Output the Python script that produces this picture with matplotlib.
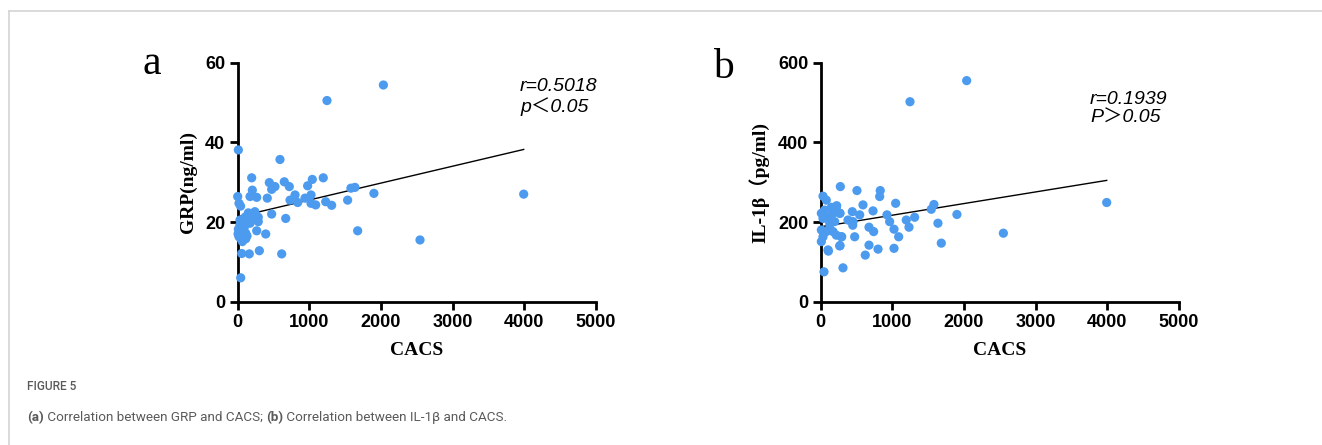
import numpy as np
import matplotlib
matplotlib.use("Agg")
import matplotlib.pyplot as plt
from matplotlib.lines import Line2D

# panel a: CACS vs GRP (ng/ml)
cacs_a = [2033, 1246, 9, 590, 3991, 2544, 1674, 1901, 1636, 1580, 1534, 1194,
          1041, 976, 1023, 1023, 1088, 1228, 1311, 650, 720, 800, 730, 837,
          939, 441, 520, 474, 413, 474, 670, 391, 614, 302, 265, 195, 204,
          172, 265, 162, 56, 42, 0, 18, 40, 148, 232, 287, 195, 102, 32, 32,
          9, 92, 112, 18, 46, 112, 65, 287, 172, 79, 240, 225, 5, 60, 130]
grp = [54.4, 50.5, 38.1, 35.7, 27.0, 15.5, 17.8, 27.2, 28.7, 28.5, 25.5, 31.1,
       30.7, 29.1, 26.8, 24.7, 24.3, 25.1, 24.2, 30.1, 28.9, 26.8, 25.5, 24.9,
       26.0, 29.9, 28.9, 28.2, 26.0, 22.0, 20.9, 17.0, 12.0, 12.8, 17.8, 31.1, 28.0,
       26.4, 26.2, 12.0, 12.1, 6.0, 26.4, 24.7, 24.0, 22.3, 22.3, 21.2, 20.9, 21.2,
       20.5, 19.3, 18.2, 18.7, 17.2, 16.3, 15.8, 15.8, 15.1, 20.1, 19.7, 20.1,
       22.6, 21.5, 17.0, 17.5, 16.5]
fit_a = (0.00424, 21.3)   # slope, intercept

# panel b: CACS vs IL-1beta (pg/ml)
cacs_b = [2037, 1246, 3991, 2549, 1683, 1901, 1636, 1580, 1543, 1311, 1194, 1232,
          1088, 1023, 1023, 1046, 962, 925, 831, 823, 800, 730, 739, 674, 674,
          622, 590, 544, 474, 441, 451, 381, 274, 311, 293, 270, 270, 223, 107,
          46, 32, 78, 9, 55, 148, 218, 265, 172, 102, 32, 195, 126, 9, 78, 32,
          9, 172, 218, 287, 265, 102, 126, 506, 447]
il1b = [555, 502, 249, 172, 147, 219, 197, 244, 232, 212, 205, 187,
        163, 182, 134, 247, 201, 218, 279, 264, 132, 228, 176, 187, 142,
        117, 243, 218, 163, 226, 201, 205, 289, 85, 163, 141, 222, 241, 127,
        75, 265, 255, 222, 230, 237, 238, 222, 222, 213, 209, 201, 197, 180, 176, 163,
        151, 176, 167, 163, 140, 130, 184, 279, 192]
fit_b = (0.0292, 188.0)

dot_color = "#4C9BEF"
tick_font = "Liberation Sans"
label_font = "Liberation Serif"
cap_font = ["Roboto"]
cap_color = "#5a5a5a"

fig = plt.figure(figsize=(13.22, 4.45), dpi=100)

# light frame lines (top and left)
fig.add_artist(Line2D([9 / 1322, 1], [1 - 11 / 445, 1 - 11 / 445], color="#d4d4d4", lw=1.2))
fig.add_artist(Line2D([9 / 1322, 9 / 1322], [0, 1 - 11 / 445], color="#d4d4d4", lw=1.2))


def panel(rect, x, y, fit, ymax, yticks, ylabel, letter, letter_xy, stats, stats_xy):
    ax = fig.add_axes(rect)
    ax.scatter(x, y, s=44, color=dot_color, edgecolors="none", zorder=3, clip_on=False)
    xs = np.array([0, max(x)])
    ax.plot(xs, fit[0] * xs + fit[1], color="black", lw=1.0, zorder=2)
    ax.set_xlim(0, 5000)
    ax.set_ylim(0, ymax)
    ax.set_xticks([0, 1000, 2000, 3000, 4000, 5000])
    ax.set_yticks(yticks)
    for s in ["top", "right"]:
        ax.spines[s].set_visible(False)
    for s in ["left", "bottom"]:
        ax.spines[s].set_linewidth(2.0)
    ax.tick_params(width=2.0, length=6, direction="out", labelsize=13, pad=3)
    for lab in ax.get_xticklabels() + ax.get_yticklabels():
        lab.set_fontfamily(tick_font)
        lab.set_fontweight("bold")
    ax.set_xlabel("CACS", fontsize=14, fontweight="bold", family=label_font, labelpad=8)
    ax.set_ylabel(ylabel, fontsize=14, fontweight="bold",
                  family=[label_font, "Noto Sans CJK SC"], labelpad=6)
    fig.text(letter_xy[0] / 1322, 1 - letter_xy[1] / 445, letter, fontsize=30,
             family=label_font, ha="center", va="baseline")
    fig.text(stats_xy[0] / 1322, 1 - stats_xy[1] / 445, stats, fontsize=14,
             style="italic", family=["Liberation Sans", "Noto Sans CJK SC"],
             ha="left", va="baseline", linespacing=1.15)
    return ax


panel([237.7 / 1322, 143.3 / 445, 358.3 / 1322, 239 / 445], cacs_a, grp, fit_a, 60,
      [0, 20, 40, 60], "GRP(ng/ml)", "a", (152, 74), "r=0.5018\np\uff1c0.05", (520, 112))
panel([820.7 / 1322, 143.3 / 445, 358.3 / 1322, 239 / 445], cacs_b, il1b, fit_b, 600,
      [0, 200, 400, 600], "IL-1\u03b2\uff08pg/ml)", "b", (723, 78), "r=0.1939\nP\uff1e0.05", (1090, 123))

# caption: heading, then pieces chained one after another
fig.text(27 / 1322, 1 - 390 / 445, "FIGURE 5", fontsize=8.6, color=cap_color,
         family=cap_font, fontweight="medium", ha="left", va="baseline")
caption = [("(a)", "bold"), (" Correlation between GRP and CACS; ", "normal"),
           ("(b)", "bold"), (" Correlation between IL-1\u03b2 and CACS.", "normal")]
cap_size = 9.7
last = fig.text(27 / 1322, 1 - 421 / 445, caption[0][0], fontsize=cap_size, color=cap_color,
                family=cap_font, fontweight=caption[0][1], ha="left", va="baseline")
for txt, w in caption[1:]:
    last = plt.annotate(txt, xy=(1, 0), xycoords=last, fontsize=cap_size, color=cap_color,
                        family=cap_font, fontweight=w, ha="left", va="bottom",
                        annotation_clip=False)

fig.savefig("out.png", dpi=100)
